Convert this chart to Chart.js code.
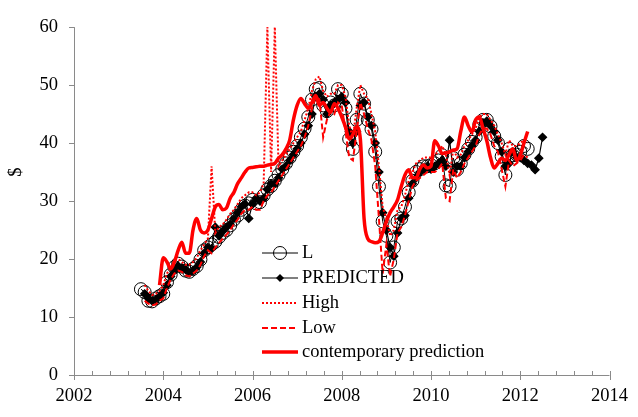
<!DOCTYPE html>
<html>
<head>
<meta charset="utf-8">
<script src="https://cdn.jsdelivr.net/npm/chart.js@4"></script>
<style>
  html, body { margin: 0; padding: 0; background: #fff; }
</style>
</head>
<body>
<canvas id="chart" width="638" height="417"></canvas>
<script>
// Monthly series, each starts at [year, month]
const lStart = [2003, 7];
const lValues = [
  14.8, 14.3, 12.8, 12.7, 13.2, 13.6,
  14.0, 16.0, 17.3, 18.6, 19.2, 18.7, 18.0, 17.8, 18.3, 18.8, 19.9, 21.5,
  22.0, 22.5, 23.0, 23.8, 24.5, 25.0, 25.8, 26.8, 27.5, 28.5, 29.2, 29.6,
  30.2, 29.6, 29.8, 31.0, 32.0, 32.6, 33.5, 34.5, 35.5, 36.5, 37.5, 38.5,
  39.5, 41.0, 42.5, 44.5, 47.5, 49.3, 49.5, 46.5, 45.5, 47.0, 46.5, 49.3,
  48.5, 46.0, 40.7, 39.0, 44.0, 48.5, 46.8, 44.0, 42.4, 38.5, 32.5, 26.5,
  24.0, 19.4, 22.0, 26.5, 27.0, 29.0, 31.5, 33.5, 35.0, 35.5, 36.0, 36.0,
  36.2, 36.5, 37.0, 37.9, 32.7, 32.5, 37.4, 35.4, 36.5, 38.0, 39.0, 40.2,
  41.0, 43.2, 44.0, 44.0, 42.9, 41.2, 40.0, 37.7, 34.5, 39.0, 37.9, 38.0,
  38.5, 39.5, 39.0
];

const predictedStart = [2003, 8];
const predictedValues = [
  14.0, 13.2, 12.8, 13.0, 13.5,
  14.2, 15.5, 17.0, 18.0, 18.8, 18.5, 18.2, 17.6, 18.0, 18.6, 19.5, 21.0,
  22.0, 21.8, 25.5, 24.0, 24.8, 25.5, 26.0, 27.0, 28.0, 29.0, 29.5, 27.0,
  29.5, 30.5, 30.0, 30.5, 32.0, 33.0, 33.0, 34.0, 35.5, 36.0, 37.0, 38.0,
  39.0, 40.0, 41.5, 43.0, 45.0, 48.0, 48.5, 47.5, 45.0, 46.5, 47.0, 47.5,
  48.0, 47.0, 42.0, 40.0, 42.0, 46.5, 47.0, 44.5, 43.0, 40.0, 35.0, 28.0,
  25.0, 22.0, 20.5, 24.5, 27.0, 27.5, 30.5, 33.0, 34.0, 35.0, 35.5, 36.0,
  35.5, 36.0, 36.5, 37.0, 36.0, 40.5, 35.0, 36.0, 36.0, 37.5, 38.5, 39.5,
  40.5, 42.0, 43.5, 43.8, 43.0, 42.0, 40.5, 38.5, 36.0, 36.5, 38.5, 37.5,
  37.5, 37.0, 36.5, 36.2, 35.4, 37.4, 41.0
];

const highStart = [2003, 8];
const highValues = [
  15.5, 14.5, 13.8, 14.0, 14.5,
  15.5, 17.5, 18.5, 19.8, 20.0, 19.5, 19.0, 19.0, 19.5, 20.2, 21.5, 22.5,
  23.5, 36.0, 24.5, 25.5, 26.0, 26.8, 27.8, 28.5, 29.5, 30.5, 31.0, 31.5,
  31.5, 31.0, 31.5, 33.0, 60.0, 35.0, 60.0, 36.0, 37.0, 38.0, 39.0, 40.0,
  41.0, 42.0, 44.0, 46.0, 49.0, 51.0, 51.5, 49.0, 48.0, 48.5, 48.5, 50.0,
  50.0, 48.0, 43.0, 41.0, 46.0, 50.0, 48.5, 47.7, 45.0, 42.0, 36.0, 29.0,
  27.0, 24.0, 25.0, 28.5, 29.0, 31.0, 33.5, 35.0, 36.5, 37.0, 37.5, 37.5,
  37.5, 38.0, 38.5, 39.5, 38.0, 34.5, 39.0, 37.5, 38.0, 39.5, 40.5, 41.5,
  42.5, 44.5, 45.0, 45.0, 44.0, 43.0, 41.5, 40.0, 38.0, 40.5, 39.5, 39.5,
  40.0, 40.5, 40.0
];

const lowStart = [2003, 8];
const lowValues = [
  12.8, 12.3, 12.0, 12.2, 12.8,
  13.2, 15.0, 16.5, 17.5, 18.0, 17.8, 17.2, 17.0, 17.5, 18.0, 19.0, 20.5,
  21.5, 21.0, 22.0, 22.8, 23.5, 24.2, 25.0, 26.0, 26.8, 27.8, 28.5, 28.5,
  29.0, 28.5, 28.5, 30.0, 31.0, 31.5, 32.5, 33.5, 34.5, 35.5, 36.5, 37.5,
  38.5, 39.5, 41.0, 43.0, 46.0, 48.0, 47.5, 41.0, 44.0, 45.5, 45.0, 47.0,
  46.5, 42.0, 37.5, 37.0, 42.0, 47.0, 45.0, 42.5, 40.5, 36.0, 27.0, 17.5,
  22.5, 17.0, 20.0, 24.5, 25.5, 27.5, 30.0, 32.5, 33.5, 34.0, 34.5, 35.0,
  35.0, 35.0, 35.5, 36.5, 30.5, 30.0, 35.5, 34.0, 35.0, 36.5, 37.5, 38.5,
  39.5, 41.5, 42.5, 42.5, 41.5, 39.5, 38.5, 35.5, 32.5, 37.0, 36.0, 36.5,
  37.0, 38.0, 37.5
];

const contemporaryStart = [2003, 12];
const contemporaryValues = [
  15.5,
  20.2, 19.5, 18.3, 19.5, 21.5, 22.9, 21.0, 21.0, 25.0, 27.0, 25.0, 24.5,
  25.0, 27.0, 29.0, 29.4, 28.5, 28.8, 30.5, 31.5, 33.0, 34.0, 35.0, 35.7,
  35.8, 35.9, 36.0, 36.0, 36.2, 36.3, 36.5, 37.4, 38.0, 39.0, 40.5, 44.0,
  46.5, 47.7, 46.8, 46.0, 47.0, 48.2, 46.5, 47.0, 46.0, 45.3, 46.8, 46.0,
  44.5, 42.8, 40.7, 41.5, 42.8, 40.7, 27.0, 23.5, 23.0, 22.8, 23.0, 24.5,
  26.5, 28.0, 29.0, 30.2, 32.5, 34.5, 35.4, 34.0, 34.0, 35.5, 36.2, 35.7,
  36.0, 40.4, 39.5, 38.2, 38.3, 38.5, 38.8, 39.0, 42.0, 44.5, 43.0, 41.9,
  44.0, 44.5, 42.5, 40.4, 37.5, 35.7, 36.5, 37.4, 37.0, 38.0, 39.0, 37.0,
  37.9, 40.0, 42.0
];

const xTickLabels = [2002, 2004, 2006, 2008, 2010, 2012, 2014];
const yTickLabels = [0, 10, 20, 30, 40, 50, 60];
const legendLabels = ['L', 'PREDICTED', 'High', 'Low', 'contemporary prediction'];

function toPoints(start, values) {
  const t0 = start[0] + (start[1] - 1) / 12;
  return values.map((v, i) => ({ x: t0 + i / 12, y: v }));
}

const FONT = "'Liberation Serif', 'Times New Roman', serif";
const AXIS_COLOR = '#8a8a8a';

// axis lines + tick marks, Excel style
const axesPlugin = {
  id: 'axesPlugin',
  beforeDatasetsDraw(chart) {
    const ctx = chart.ctx;
    const xs = chart.scales.x, ys = chart.scales.y;
    const area = chart.chartArea;
    ctx.save();
    ctx.strokeStyle = AXIS_COLOR;
    ctx.lineWidth = 1;
    ctx.beginPath();
    ctx.moveTo(area.left + 0.5, area.top);
    ctx.lineTo(area.left + 0.5, area.bottom + 0.5);
    ctx.lineTo(area.right, area.bottom + 0.5);
    // y ticks
    yTickLabels.forEach(v => {
      const y = Math.round(ys.getPixelForValue(v)) + 0.5;
      ctx.moveTo(area.left - 5, y);
      ctx.lineTo(area.left, y);
    });
    // x major and minor ticks
    for (let k = 0; k <= 30; k++) {
      const v = 2002 + k * 0.4;
      const x = Math.round(xs.getPixelForValue(v)) + 0.5;
      if (k % 5 === 0) {
        ctx.moveTo(x, area.bottom - 4);
        ctx.lineTo(x, area.bottom + 5);
      } else {
        ctx.moveTo(x, area.bottom - 4);
        ctx.lineTo(x, area.bottom);
      }
    }
    ctx.stroke();
    // y axis title
    ctx.fillStyle = '#000';
    ctx.font = '18.5px ' + FONT;
    ctx.textAlign = 'center';
    ctx.textBaseline = 'middle';
    ctx.translate(16, 172);
    ctx.rotate(-Math.PI / 2);
    ctx.fillText('$', 0, 0);
    ctx.restore();
  }
};

// legend drawn inside the plot
const legendPlugin = {
  id: 'legendPlugin',
  afterDraw(chart) {
    const ctx = chart.ctx;
    const rows = [253, 278, 303, 328, 352];
    const x0 = 262, x1 = 298, xm = 280, xt = 302;
    ctx.save();
    ctx.font = '18.5px ' + FONT;
    ctx.textBaseline = 'middle';
    ctx.textAlign = 'left';
    chart.data.datasets.forEach((ds, i) => {
      const y = rows[i];
      ctx.strokeStyle = ds.borderColor;
      ctx.lineWidth = ds.borderWidth;
      ctx.setLineDash(ds.borderDash || []);
      ctx.beginPath();
      ctx.moveTo(x0, y);
      ctx.lineTo(x1, y);
      ctx.stroke();
      ctx.setLineDash([]);
      if (ds.pointRadius > 0) {
        ctx.lineWidth = 1;
        ctx.strokeStyle = '#000';
        ctx.fillStyle = '#000';
        ctx.beginPath();
        if (ds.pointStyle === 'circle') {
          ctx.arc(xm, y, ds.pointRadius, 0, Math.PI * 2);
          ctx.stroke();
        } else {
          const r = ds.pointRadius;
          ctx.moveTo(xm, y - r);
          ctx.lineTo(xm + r, y);
          ctx.lineTo(xm, y + r);
          ctx.lineTo(xm - r, y);
          ctx.closePath();
          ctx.fill();
        }
      }
      ctx.fillStyle = '#000';
      ctx.fillText(legendLabels[i], xt, y);
    });
    ctx.restore();
  }
};

Chart.defaults.font.family = FONT;
Chart.defaults.font.size = 18.5;
Chart.defaults.color = '#000';

new Chart(document.getElementById('chart'), {
  type: 'line',
  data: {
    datasets: [
      {
        label: legendLabels[0],
        data: toPoints(lStart, lValues),
        borderColor: '#000',
        borderWidth: 1,
        pointStyle: 'circle',
        pointRadius: 6.5,
        pointBorderColor: '#000',
        pointBorderWidth: 1,
        pointBackgroundColor: 'rgba(0,0,0,0)',
        order: 5
      },
      {
        label: legendLabels[1],
        data: toPoints(predictedStart, predictedValues),
        borderColor: '#000',
        borderWidth: 1.2,
        pointStyle: 'rectRot',
        pointRadius: 4,
        pointBorderColor: '#000',
        pointBackgroundColor: '#000',
        order: 4
      },
      {
        label: legendLabels[2],
        data: toPoints(highStart, highValues),
        borderColor: '#ff0000',
        borderWidth: 2,
        borderDash: [2, 2],
        pointRadius: 0,
        order: 3
      },
      {
        label: legendLabels[3],
        data: toPoints(lowStart, lowValues),
        borderColor: '#ff0000',
        borderWidth: 2,
        borderDash: [6, 3],
        pointRadius: 0,
        order: 2
      },
      {
        label: legendLabels[4],
        data: toPoints(contemporaryStart, contemporaryValues),
        borderColor: '#ff0000',
        borderWidth: 3.5,
        pointRadius: 0,
        cubicInterpolationMode: 'monotone',
        order: 1
      }
    ]
  },
  options: {
    responsive: false,
    animation: false,
    events: [],
    layout: { padding: { left: 0, top: 14, right: 24, bottom: 0 } },
    plugins: {
      legend: { display: false },
      tooltip: { enabled: false }
    },
    scales: {
      x: {
        type: 'linear',
        min: 2002,
        max: 2014,
        grid: { display: false, drawTicks: false },
        border: { display: false },
        afterBuildTicks: s => { s.ticks = xTickLabels.map(v => ({ value: v })); },
        afterFit: s => { s.height = 42; },
        ticks: { padding: 10, maxRotation: 0, autoSkip: false, callback: v => String(v) }
      },
      y: {
        min: 0,
        max: 60,
        grid: { display: false, drawTicks: false },
        border: { display: false },
        afterBuildTicks: s => { s.ticks = yTickLabels.map(v => ({ value: v })); },
        afterFit: s => { s.width = 74; },
        ticks: { padding: 16, callback: v => String(v) }
      }
    }
  },
  plugins: [axesPlugin, legendPlugin]
});
</script>
</body>
</html>
